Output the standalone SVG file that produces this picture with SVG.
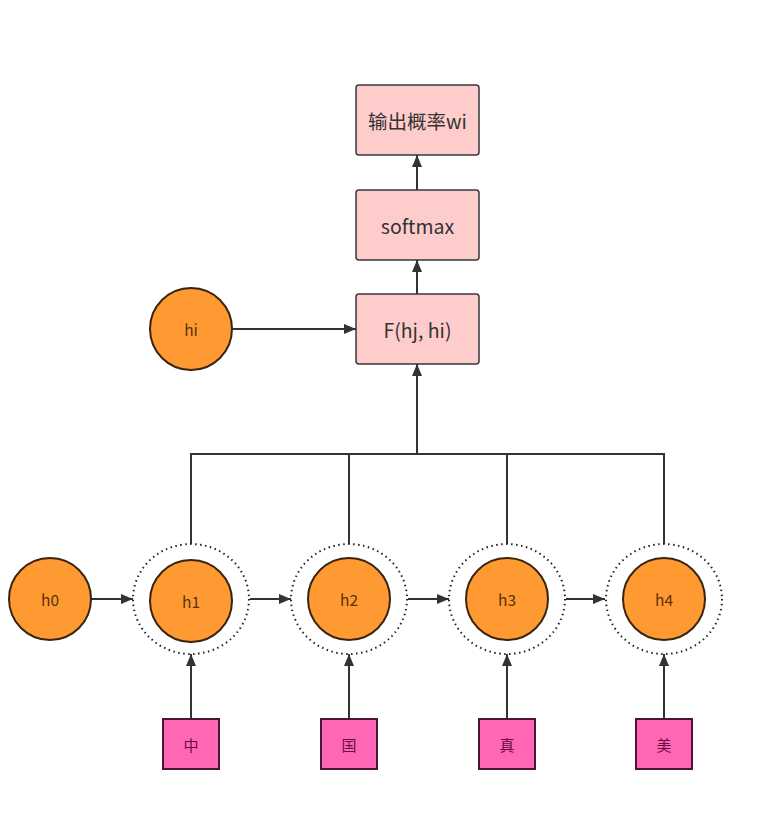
<svg xmlns="http://www.w3.org/2000/svg" width="783" height="832" viewBox="0 0 783 832">
<defs>
<marker id="ah" viewBox="0 0 12 10" refX="12" refY="5" markerWidth="12" markerHeight="10" markerUnits="userSpaceOnUse" orient="auto">
<path d="M0,0 L12,5 L0,10 z" fill="#333"/>
</marker>
</defs>
<style>
.box{fill:#FFCCCC;stroke:#36393d;stroke-width:1.5}
.btxt{font-family:"Noto Sans CJK SC","Liberation Sans",sans-serif;font-size:19.5px;fill:#333;text-anchor:middle;dominant-baseline:central}
.circ{fill:#FF9A33;stroke:#3a2410;stroke-width:2}
.ctxt{font-family:"Noto Sans CJK SC","Liberation Sans",sans-serif;font-size:15.5px;fill:#5a3008;text-anchor:middle;dominant-baseline:central}
.dot{fill:none;stroke:#222;stroke-width:2;stroke-dasharray:1.5 3.5}
.sq{fill:#FF66B3;stroke:#4a1638;stroke-width:2}
.stxt{font-family:"Noto Sans CJK SC",sans-serif;font-size:15px;fill:#6b0b45;text-anchor:middle;dominant-baseline:central}
.ln{fill:none;stroke:#333;stroke-width:2}
</style>
<rect width="783" height="832" fill="#fff"/>
<g id="connectors">
<path class="ln" d="M417,190 V155" marker-end="url(#ah)"/>
<path class="ln" d="M417,294 V260" marker-end="url(#ah)"/>
<path class="ln" d="M233,329 H356" marker-end="url(#ah)"/>
<path class="ln" d="M417,454 V364" marker-end="url(#ah)"/>
<path class="ln" d="M191,544 V454 H664 V544"/>
<path class="ln" d="M349,544 V454"/>
<path class="ln" d="M507,544 V454"/>
<path class="ln" d="M91,599 H133" marker-end="url(#ah)"/>
<path class="ln" d="M250,599 H291" marker-end="url(#ah)"/>
<path class="ln" d="M408,599 H449" marker-end="url(#ah)"/>
<path class="ln" d="M566,599 H605" marker-end="url(#ah)"/>
<path class="ln" d="M191,719 V654" marker-end="url(#ah)"/>
<path class="ln" d="M349,719 V654" marker-end="url(#ah)"/>
<path class="ln" d="M507,719 V654" marker-end="url(#ah)"/>
<path class="ln" d="M664,719 V654" marker-end="url(#ah)"/>
</g>
<g id="out"><rect class="box" x="356" y="85" width="123" height="70" rx="3"/><text class="btxt" x="417.5" y="120">输出概率wi</text></g>
<g id="softmax"><rect class="box" x="356" y="190" width="123" height="70" rx="3"/><text class="btxt" x="417.5" y="225">softmax</text></g>
<g id="F"><rect class="box" x="356" y="294" width="123" height="70" rx="3"/><text class="btxt" x="417.5" y="329">F(hj, hi)</text></g>
<g id="hi"><circle class="circ" cx="191" cy="329" r="41"/><text class="ctxt" x="191" y="329">hi</text></g>
<g id="h0"><circle class="circ" cx="50" cy="599" r="41"/><text class="ctxt" x="50" y="599">h0</text></g>
<g id="h1"><ellipse class="dot" cx="191" cy="599" rx="58" ry="55"/><circle class="circ" cx="191" cy="601" r="41"/><text class="ctxt" x="191" y="601">h1</text></g>
<g id="h2"><ellipse class="dot" cx="349" cy="599" rx="58" ry="55"/><circle class="circ" cx="349" cy="599" r="41"/><text class="ctxt" x="349" y="599">h2</text></g>
<g id="h3"><ellipse class="dot" cx="507" cy="599" rx="58" ry="55"/><circle class="circ" cx="507" cy="599" r="41"/><text class="ctxt" x="507" y="599">h3</text></g>
<g id="h4"><ellipse class="dot" cx="664" cy="599" rx="58" ry="55"/><circle class="circ" cx="664" cy="599" r="41"/><text class="ctxt" x="664" y="599">h4</text></g>
<g id="w1"><rect class="sq" x="163" y="719" width="56" height="50"/><text class="stxt" x="191" y="744">中</text></g>
<g id="w2"><rect class="sq" x="321" y="719" width="56" height="50"/><text class="stxt" x="349" y="744">国</text></g>
<g id="w3"><rect class="sq" x="479" y="719" width="56" height="50"/><text class="stxt" x="507" y="744">真</text></g>
<g id="w4"><rect class="sq" x="636" y="719" width="56" height="50"/><text class="stxt" x="664" y="744">美</text></g>
</svg>
